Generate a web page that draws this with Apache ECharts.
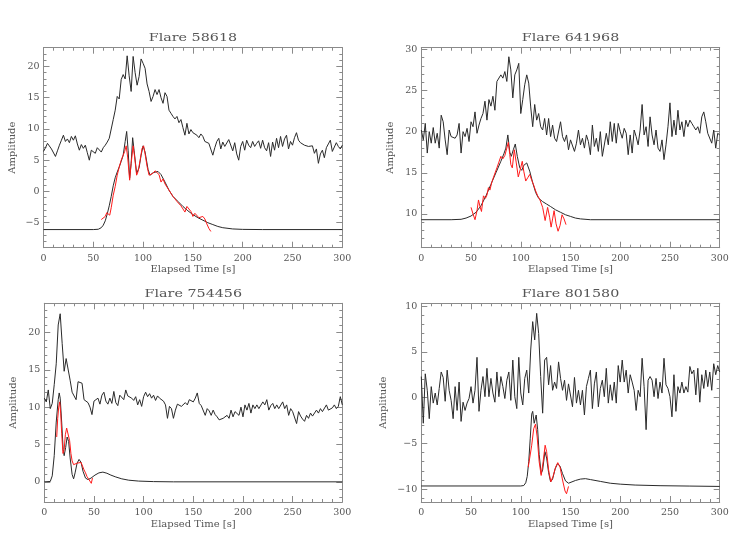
<!DOCTYPE html>
<html>
<head>
<meta charset="utf-8">
<script src="https://cdn.jsdelivr.net/npm/echarts@6/dist/echarts.min.js"></script>
<style>
  html, body { margin: 0; background: #fff; }
  #chart { width: 748px; height: 550px; }
</style>
</head>
<body>
<div id="chart"></div>
<script>
// light curves are sampled every 2 s, from 0 to 300 s
const step = 2

const titles = ['Flare 58618', 'Flare 641968', 'Flare 754456', 'Flare 801580']
const xTicks = [0, 50, 100, 150, 200, 250, 300]
const yRanges = [[-9, 23], [5.9, 30.2], [-2.7, 23.9], [-11.4, 10.3]]
const yTicks = [
  [-5, 0, 5, 10, 15, 20],
  [10, 15, 20, 25, 30],
  [0, 5, 10, 15, 20],
  [-10, -5, 0, 5, 10]
]

// Flare 58618
const noisy1 = [
  6.4, 7.0, 7.7, 7.5, 6.8, 7.0, 5.6, 6.5, 7.4, 8.2,
  9.0, 8.0, 8.4, 7.8, 8.8, 8.2, 8.9, 7.6, 6.6, 7.5,
  6.9, 7.4, 6.2, 5.0, 6.6, 6.9, 6.1, 7.0, 7.2, 6.3,
  7.0, 7.4, 7.9, 8.5, 8.8, 11.5, 13.0, 15.2, 14.8, 17.9,
  18.7, 18.0, 21.7, 18.5, 16.0, 21.6, 19.0, 17.0, 18.4, 21.2,
  20.5, 19.7, 17.2, 16.0, 14.4, 15.2, 16.3, 15.5, 16.3, 15.0,
  14.1, 15.8, 15.2, 13.0, 12.5, 12.0, 11.6, 12.0, 11.0, 11.5,
  10.2, 9.0, 10.9, 9.2, 9.9, 9.4, 9.6, 9.0, 8.6, 9.2,
  8.8, 8.0, 8.2, 7.7, 7.4, 5.8, 7.0, 8.0, 8.5, 6.8,
  7.9, 7.2, 6.9, 8.3, 8.0, 6.5, 7.8, 6.0, 5.0, 7.2,
  8.0, 6.6, 8.2, 7.4, 7.0, 8.0, 7.2, 7.7, 8.1, 6.9,
  8.2, 7.0, 6.5, 7.8, 5.6, 7.9, 6.6, 8.5, 7.0, 8.8,
  7.2, 8.4, 9.0, 6.8, 8.0, 7.4, 8.6, 9.4, 8.2, 7.8,
  8.0, 7.4, 7.6, 7.2, 6.9, 7.3, 6.1, 6.8, 4.5, 6.0,
  6.6, 5.4, 7.0, 7.6, 8.2, 6.4, 6.4, 7.8, 7.2, 6.8,
  7.4
]
const fit1T = [0, 50, 55, 58, 60, 62, 64, 66, 68, 70, 72, 74, 76, 78, 80, 82, 83.5, 85, 86.5, 88, 89.5, 91, 93.5, 96, 98, 100, 102, 105, 107, 110, 112, 115, 118, 122, 126, 130, 135, 140, 145, 150, 155, 160, 165, 170, 175, 180, 190, 200, 220, 300]
const fit1V = [-6.1, -6.1, -6.05, -5.8, -5.4, -4.7, -3.6, -2.3, -0.8, 0.9, 2.2, 3.1, 3.9, 4.8, 5.8, 8.0, 9.6, 6.5, 2.1, 4.5, 8.6, 6.5, 2.9, 3.8, 5.8, 7.3, 6.3, 3.5, 2.6, 3.0, 3.3, 3.2, 2.7, 1.5, 0.2, -0.8, -1.6, -2.4, -3.1, -3.7, -4.2, -4.6, -5.0, -5.3, -5.6, -5.8, -6.0, -6.07, -6.1, -6.1]
const red1T = [58, 60, 62, 63.5, 65, 66.5, 68, 70, 72, 74, 76, 78, 80, 81.5, 83, 84.5, 86.5, 88, 90, 91.5, 93.5, 95, 97, 99, 100.5, 102, 104, 106, 108, 110, 112, 114, 116, 118, 120, 122, 124, 126, 128, 130, 132, 134, 136, 138, 140, 142, 144, 146, 148, 150, 152, 154, 156, 158, 160, 162, 164, 166, 168]
const red1V = [-4.5, -4.8, -4.0, -3.4, -3.3, -3.8, -2.6, -0.6, 0.8, 2.6, 3.9, 5.0, 5.2, 6.4, 7.3, 5.5, 1.8, 4.5, 7.3, 5.5, 2.6, 3.2, 5.0, 6.9, 7.3, 6.0, 4.0, 2.6, 2.4, 2.9, 3.3, 3.1, 2.7, 1.5, 2.0, 1.2, 0.7, 0.4, -0.3, -0.8, -1.2, -1.6, -1.9, -2.3, -2.8, -3.3, -2.4, -2.3, -3.2, -4.0, -3.5, -3.6, -4.2, -4.5, -4.0, -4.4, -5.2, -5.9, -6.4]

// Flare 641968
const noisy2 = [
  20.2, 19.0, 21.0, 17.4, 20.0, 18.6, 20.5, 18.6, 19.8, 18.0,
  22.0, 21.2, 19.0, 17.2, 20.2, 19.4, 19.6, 19.2, 19.6, 21.0,
  17.4, 20.0, 19.4, 20.4, 18.8, 21.2, 20.6, 22.4, 19.8, 20.8,
  21.6, 22.2, 23.7, 21.4, 23.9, 23.1, 24.3, 22.6, 26.1, 25.9,
  26.9, 26.5, 27.3, 26.1, 29.1, 27.5, 24.1, 26.9, 27.5, 28.3,
  22.2, 23.9, 25.7, 26.9, 25.9, 23.0, 20.6, 23.3, 21.4, 22.2,
  20.6, 20.2, 21.6, 19.6, 21.6, 19.4, 20.8, 19.2, 18.8, 18.6,
  21.2, 19.4, 18.8, 19.6, 17.8, 19.0, 19.2, 17.6, 18.6, 20.2,
  18.4, 19.2, 18.0, 19.6, 18.8, 17.2, 20.8, 18.2, 19.2, 17.6,
  20.0, 17.0, 16.8, 19.8, 18.4, 21.2, 18.8, 21.0, 18.6, 21.0,
  20.0, 19.2, 20.4, 19.8, 17.2, 19.6, 17.4, 20.2, 19.4, 18.4,
  20.2, 23.3, 19.6, 20.6, 18.2, 21.8, 19.6, 18.4, 20.2, 18.0,
  17.6, 19.0, 16.6, 18.4, 20.6, 23.5, 19.4, 21.4, 19.6, 22.6,
  20.2, 21.2, 19.4, 21.4, 20.6, 21.4, 21.0, 20.6, 20.2, 20.6,
  19.8, 21.8, 22.4, 21.2, 19.8, 19.6, 18.6, 20.2, 18.0, 19.8,
  19.6
]
const fit2T = [0, 30, 40, 45, 50, 55, 60, 65, 70, 75, 80, 83, 85, 87, 89, 90.5, 92.5, 94.5, 96.5, 99, 101, 103, 106, 109, 112, 115, 118, 122, 126, 130, 135, 140, 145, 150, 155, 160, 170, 300]
const fit2V = [9.3, 9.3, 9.35, 9.5, 9.75, 10.2, 11.0, 12.2, 13.6, 15.0, 16.4, 17.3, 18.0, 19.6, 17.5, 17.0, 17.8, 18.5, 17.0, 15.6, 15.3, 15.9, 16.2, 15.2, 13.8, 12.6, 11.9, 11.5, 11.2, 10.9, 10.5, 10.2, 9.9, 9.7, 9.5, 9.4, 9.3, 9.3]
const red2T = [50, 52, 54, 56, 57.5, 59, 60.5, 62.5, 64.5, 66, 67.5, 69, 71, 73, 76, 78, 80, 82, 84, 85.5, 87.5, 89, 90, 91.5, 93.5, 95.5, 97.5, 99.5, 101.5, 103, 105, 107, 109, 111, 113, 115, 117, 119, 120.5, 122, 124.5, 127, 129, 130.5, 132, 133.5, 135.5, 137.5, 139.5, 141.5, 143.5, 145.5]
const red2V = [10.8, 10.0, 9.3, 10.4, 11.7, 10.9, 10.3, 12.2, 11.9, 12.3, 13.2, 12.9, 13.9, 14.6, 15.6, 16.3, 17.0, 16.7, 17.1, 17.0, 18.7, 17.2, 16.0, 15.6, 17.8, 16.2, 14.5, 15.4, 16.4, 15.2, 14.0, 14.4, 14.8, 14.1, 13.5, 12.8, 12.2, 11.8, 12.0, 10.8, 9.2, 10.8, 9.6, 8.4, 9.4, 10.4, 8.8, 7.9, 8.6, 9.9, 9.4, 8.7]

// Flare 754456
const noisy3 = [
  11.2, 10.7, 12.3, 9.8, 10.5, 13.0, 15.8, 21.0, 22.5, 18.5,
  14.8, 16.5, 16.5, 13.6, 12.0, 12.0, 11.0, 13.4, 13.6, 13.2,
  11.0, 10.8, 10.6, 10.0, 9.0, 10.8, 11.0, 11.2, 10.4, 11.6,
  12.0, 10.8, 10.4, 11.2, 10.5, 12.1, 10.6, 10.2, 11.6, 11.8,
  11.0, 12.3, 11.5, 11.4, 11.2, 10.9, 11.4, 10.3, 11.0, 10.1,
  11.4, 12.0, 11.4, 11.8, 11.2, 11.6, 10.9, 11.5, 11.2, 11.0,
  10.8, 10.3, 8.5, 10.1, 9.8, 8.5, 9.6, 10.4, 10.3, 10.1,
  10.1, 10.6, 10.3, 11.0, 10.9, 10.7, 11.2, 11.9, 10.5, 10.2,
  10.0, 8.9, 9.8, 9.5, 8.9, 9.6, 9.0, 8.7, 8.3, 8.1,
  8.5, 8.3, 8.9, 8.5, 9.6, 8.7, 9.4, 9.6, 8.9, 10.0,
  8.7, 10.3, 9.6, 10.5, 9.2, 10.3, 9.8, 10.3, 9.8, 9.6,
  10.7, 10.3, 11.0, 9.6, 10.2, 10.5, 9.8, 10.3, 9.8, 9.6,
  10.7, 9.8, 10.3, 8.9, 9.8, 9.4, 9.3, 7.8, 9.4, 8.8,
  8.4, 8.1, 8.9, 8.5, 9.2, 8.8, 8.7, 9.6, 9.2, 9.8,
  9.4, 9.6, 10.3, 9.6, 9.8, 9.9, 10.3, 9.8, 10.1, 11.4,
  10.3
]
const fit3T = [0, 6, 8, 10, 12, 14, 15, 16, 17.5, 19, 20, 21.5, 23, 24.5, 26, 28, 29.5, 31, 33, 35, 37, 39, 41.5, 44, 47, 51, 55, 59, 63, 67, 72, 78, 85, 95, 110, 130, 300]
const fit3V = [0, 0.05, 0.8, 3.5, 8.0, 11.0, 11.9, 11.2, 8.0, 4.3, 3.5, 4.6, 6.0, 5.4, 3.2, 1.0, 0.4, 1.2, 2.5, 3.0, 2.6, 1.4, 0.5, 0.3, 0.5, 0.9, 1.2, 1.3, 1.15, 0.9, 0.65, 0.4, 0.22, 0.1, 0.03, 0, 0]
const red3T = [12.5, 13.5, 14.5, 15.5, 16.5, 17.5, 18.8, 20, 21.2, 22.5, 24, 25.5, 26.8, 28, 29.5, 31, 33, 35, 37, 38.5, 40, 41.5, 43, 44.5, 46, 47.3, 48.5]
const red3V = [6.0, 8.5, 10.0, 10.7, 9.2, 6.5, 3.8, 4.3, 6.3, 7.2, 7.0, 5.5, 3.8, 2.8, 2.3, 2.3, 2.5, 2.4, 2.6, 2.5, 1.6, 1.2, 0.7, 0.4, 0.2, -0.2, 0.5]

// Flare 801580
const noisy4 = [
  2.3, -2.8, 2.6, 0.8, -2.3, 1.2, -0.6, 0.5, -0.8, 1.0,
  2.8, 2.2, -0.4, 3.0, 0.8, -0.3, -2.3, 1.2, -1.4, 1.7,
  -2.6, -0.5, -1.4, -0.6, -0.1, 1.2, -0.6, 0.8, 4.4, -1.5,
  0.8, 2.3, 0.1, 3.2, 0.1, 2.1, 0.5, -0.5, 2.8, 0.1,
  2.3, 1.2, -0.1, 1.9, 2.8, -0.3, 4.1, 0.1, -1.2, 4.4,
  0.5, -0.8, 2.1, 3.0, 0.5, 5.2, 8.3, 6.3, 9.2, 7.0,
  2.3, -1.7, 4.1, 4.4, 1.4, 3.5, 0.8, 1.7, 1.0, 3.9,
  2.1, 0.8, 1.9, -0.3, 1.5, 1.7, -1.0, 2.2, -0.6, 0.8,
  -0.8, 0.8, -1.9, 1.2, 2.1, 3.0, -1.2, 1.5, 2.8, -1.0,
  1.0, 1.9, 0.1, 3.2, -0.6, 1.4, -0.3, 1.7, -0.6, 3.5,
  1.7, 4.1, 1.7, 3.0, 0.5, 2.5, 1.7, 0.8, -1.4, 0.8,
  0.1, 4.3, 1.2, -3.5, 1.9, 2.3, 1.9, 0.1, 2.1, -0.1,
  1.7, 0.5, 4.3, 1.4, 1.0, 0.1, -2.1, 2.5, -1.5, 1.2,
  0.5, 1.7, 0.5, 1.2, 0.6, 3.4, 2.6, 3.0, 0.3, 3.2,
  -0.5, 2.5, 1.0, 3.0, 1.2, 2.8, 0.8, 3.7, 2.5, 3.5,
  2.8
]
const fit4T = [0, 100, 103, 105, 106.5, 108, 109.5, 111, 112, 113.5, 115.5, 117, 118.5, 120.5, 122, 124.3, 126, 128, 130, 132, 134.5, 137, 139.5, 142, 145, 148, 150, 155, 160, 165, 170, 180, 190, 200, 215, 240, 270, 300]
const fit4V = [-9.65, -9.65, -9.6, -9.3, -8.6, -7.0, -4.5, -1.8, -1.5, -2.8, -1.9, -3.5, -6.2, -8.3, -7.9, -5.9, -6.6, -8.2, -9.2, -8.9, -7.8, -7.2, -7.5, -8.3, -9.1, -9.35, -9.35, -9.05, -8.9, -8.85, -8.95, -9.15, -9.35, -9.45, -9.55, -9.62, -9.66, -9.7]
const red4T = [107.5, 109, 111, 113, 114.8, 116.5, 118.5, 120.5, 122.5, 124.5, 126, 128, 130.2, 132.5, 135, 137.2, 139.5, 142, 144.5, 146, 148]
const red4V = [-7.6, -6.6, -5.2, -3.4, -2.9, -4.3, -7.0, -8.5, -7.0, -5.2, -5.9, -7.9, -9.2, -8.6, -7.6, -7.1, -7.6, -9.0, -10.2, -10.5, -9.7]

const noisy = [noisy1, noisy2, noisy3, noisy4]
const fitT = [fit1T, fit2T, fit3T, fit4T]
const fitV = [fit1V, fit2V, fit3V, fit4V]
const redT = [red1T, red2T, red3T, red4T]
const redV = [red1V, red2V, red3V, red4V]

// layout of the four plot boxes
const boxes = [
  { left: 43.5, top: 47.7, width: 298.8, height: 200 },
  { left: 421.3, top: 47.7, width: 298.4, height: 200 },
  { left: 44.3, top: 303.3, width: 298, height: 198.7 },
  { left: 421.3, top: 303.3, width: 298.4, height: 198.7 }
]
const yNameGap = [26, 26, 26, 33]
const xNameGap = [16, 16, 17, 17]

const axisColor = '#8a8a8a'
const textColor = '#555'
const font = 'DejaVu Serif'

// IDL style minus sign
const fmt = v => (v < 0 ? '\u2212' + Math.abs(v) : String(v))

const chart = echarts.init(document.getElementById('chart'), null, { renderer: 'canvas' })

const grid = []
const xAxis = []
const yAxis = []
const series = []
const graphic = []

titles.forEach((title, g) => {
  const box = boxes[g]
  grid.push({ left: box.left, top: box.top, width: box.width, height: box.height })

  // the plot titles use a wide stroke font, so stretch the text a little
  graphic.push({
    type: 'text',
    x: box.left + box.width / 2,
    y: box.top - 9.5,
    scaleX: 1.3,
    style: {
      text: title, fill: textColor, font: '11px "' + font + '"',
      textAlign: 'center', textVerticalAlign: 'middle'
    }
  })

  const xBase = {
    type: 'value', gridIndex: g, min: 0, max: 300, interval: 50,
    splitLine: { show: false },
    axisLine: { onZero: false, lineStyle: { color: axisColor } },
    axisTick: { inside: true, length: 6, lineStyle: { color: axisColor } },
    minorTick: { show: true, splitNumber: 5, length: 3, lineStyle: { color: axisColor } }
  }
  xAxis.push(Object.assign({}, xBase, {
    position: 'bottom',
    name: 'Elapsed Time [s]', nameLocation: 'middle', nameGap: xNameGap[g],
    nameTextStyle: { color: textColor, fontFamily: font, fontSize: 10 },
    axisLabel: { color: textColor, fontFamily: font, fontSize: 9.5, margin: 6,
      customValues: xTicks }
  }))
  xAxis.push(Object.assign({}, xBase, { position: 'top', axisLabel: { show: false } }))

  const [lo, hi] = yRanges[g]
  const minor = []
  for (let v = Math.ceil(lo); v <= Math.floor(hi); v++) minor.push(v)

  const yMajor = (pos, labels) => ({
    type: 'value', gridIndex: g, min: lo, max: hi, position: pos,
    splitLine: { show: false },
    axisLine: { show: true, onZero: false, lineStyle: { color: axisColor } },
    axisTick: { show: true, inside: true, length: 6, customValues: yTicks[g],
      lineStyle: { color: axisColor } },
    axisLabel: labels
      ? { color: textColor, fontFamily: font, fontSize: 9.5, margin: 4,
          customValues: yTicks[g], formatter: fmt }
      : { show: false }
  })
  const yMinor = pos => ({
    type: 'value', gridIndex: g, min: lo, max: hi, position: pos,
    splitLine: { show: false },
    axisLine: { show: false, onZero: false },
    axisTick: { show: true, inside: true, length: 3, customValues: minor,
      lineStyle: { color: axisColor } },
    axisLabel: { show: false }
  })
  yAxis.push(Object.assign(yMajor('left', true), {
    name: 'Amplitude', nameLocation: 'middle', nameGap: yNameGap[g],
    nameTextStyle: { color: textColor, fontFamily: font, fontSize: 10 }
  }))
  yAxis.push(yMinor('left'))
  yAxis.push(yMajor('right', false))
  yAxis.push(yMinor('right'))

  const line = (data, color) => ({
    type: 'line', xAxisIndex: 2 * g, yAxisIndex: 4 * g, data: data,
    showSymbol: false, symbol: 'none', silent: true, animation: false,
    lineStyle: { color: color, width: 1 }
  })
  series.push(line(noisy[g].map((v, i) => [i * step, v]), '#2a2a2a'))
  series.push(line(fitT[g].map((t, i) => [t, fitV[g][i]]), '#2a2a2a'))
  series.push(line(redT[g].map((t, i) => [t, redV[g][i]]), '#ff1a1a'))
})

chart.setOption({
  backgroundColor: '#fff',
  animation: false,
  grid: grid,
  xAxis: xAxis,
  yAxis: yAxis,
  series: series,
  graphic: graphic
})
</script>
</body>
</html>
